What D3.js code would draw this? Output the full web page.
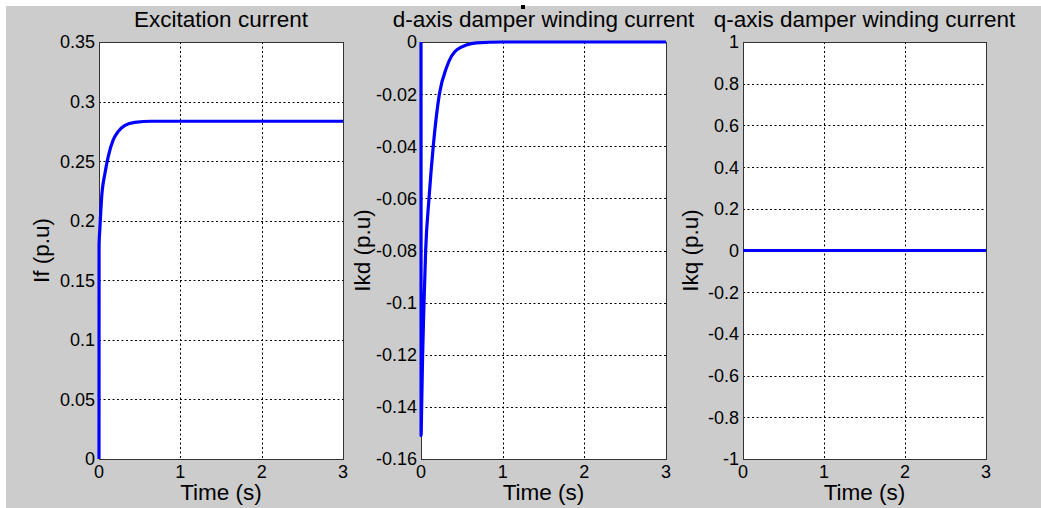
<!DOCTYPE html>
<html>
<head>
<meta charset="utf-8">
<script src="https://cdn.jsdelivr.net/npm/d3@7"></script>
<style>
body{margin:0;background:#fff;}
svg{display:block;font-family:"Liberation Sans",Arial,sans-serif;}
</style>
</head>
<body>
<svg id="chart" width="1041" height="508"></svg>
<script>
// values
var time_ticks = [0, 1, 2, 3]

var if_t = [0, 0.001, 0.012, 0.033, 0.074, 0.114, 0.176, 0.237, 0.319, 0.44, 0.646, 1, 2, 3]
var if_v = [0, 0.18, 0.195, 0.220, 0.240, 0.254, 0.268, 0.275, 0.280, 0.2826, 0.2835, 0.2835, 0.2835, 0.2835]
var if_ticks = [0, 0.05, 0.1, 0.15, 0.2, 0.25, 0.3, 0.35]

var ikd_t = [0, 0.001, 0.008, 0.02, 0.037, 0.057, 0.098, 0.15, 0.225, 0.315, 0.44, 0.68, 1, 2, 3]
var ikd_v = [0, -0.151, -0.14, -0.12, -0.10, -0.08, -0.06, -0.04, -0.02, -0.0096, -0.003, -0.0003, 0, 0, 0]
var ikd_ticks = [-0.16, -0.14, -0.12, -0.1, -0.08, -0.06, -0.04, -0.02, 0]

var ikq_t = [0, 3]
var ikq_v = [0, 0]
var ikq_ticks = [-1, -0.8, -0.6, -0.4, -0.2, 0, 0.2, 0.4, 0.6, 0.8, 1]

var titles = ['Excitation current', 'd-axis damper winding current', 'q-axis damper winding current']
var ylabels = ['If (p.u)', 'Ikd (p.u)', 'Ikq (p.u)']

function chart(){

	var svg = d3.select('svg#chart')
	svg.append('rect')
		.attr('x', 6).attr('y', 6)
		.attr('width', 1035).attr('height', 502)
		.style('fill', '#cccccc')

	// little black speck above the middle title
	svg.append('rect')
		.attr('x', 521).attr('y', 5)
		.attr('width', 4).attr('height', 4)
		.style('fill', '#000')

	var panels = [
		{x0: 99, x1: 343, t: if_t, v: if_v, ticks: if_ticks, dom: [0, 0.35], labx: 41},
		{x0: 421, x1: 666, t: ikd_t, v: ikd_v, ticks: ikd_ticks, dom: [-0.16, 0], labx: 362},
		{x0: 743, x1: 986, t: ikq_t, v: ikq_v, ticks: ikq_ticks, dom: [-1, 1], labx: 690}
	]
	panels.forEach(function(p, i){ draw(svg, p, titles[i], ylabels[i]) })
}

function draw(svg, p, title, ylabel){
	var top = 42, bottom = 459
	var sx = d3.scaleLinear().domain([0, 3]).range([p.x0, p.x1])
	var sy = d3.scaleLinear().domain(p.dom).range([bottom, top])
	var g = svg.append('g')

	g.append('rect')
		.attr('x', p.x0).attr('y', top)
		.attr('width', p.x1 - p.x0).attr('height', bottom - top)
		.style('fill', '#fff')

	// dotted grid
	g.selectAll('line.gx')
		.data(time_ticks.slice(1, -1))
		.enter()
		.append('line')
		.attr('class', 'gx')
		.attr('x1', function(d){return Math.round(sx(d)) + 0.5})
		.attr('x2', function(d){return Math.round(sx(d)) + 0.5})
		.attr('y1', top).attr('y2', bottom)
		.style('stroke', '#000')
		.style('stroke-dasharray', '2,2.5')
	g.selectAll('line.gy')
		.data(p.ticks.slice(1, -1))
		.enter()
		.append('line')
		.attr('class', 'gy')
		.attr('y1', function(d){return Math.round(sy(d)) + 0.5})
		.attr('y2', function(d){return Math.round(sy(d)) + 0.5})
		.attr('x1', p.x0).attr('x2', p.x1)
		.style('stroke', '#000')
		.style('stroke-dasharray', '2,2.5')

	g.append('rect')
		.attr('x', p.x0 + 0.5).attr('y', top + 0.5)
		.attr('width', p.x1 - p.x0).attr('height', bottom - top)
		.style('fill', 'none')
		.style('stroke', '#333')

	var pts = p.t.map(function(t, k){return [t, p.v[k]]})
	var line = d3.line()
		.curve(d3.curveMonotoneX)
		.x(function(d){return sx(d[0])})
		.y(function(d){return sy(d[1])})
	g.append('path')
		.datum(pts)
		.attr('d', line)
		.style('fill', 'none')
		.style('stroke', '#0000ff')
		.style('stroke-width', 3.2)
		.style('stroke-linejoin', 'round')

	// tick labels
	g.selectAll('text.ty')
		.data(p.ticks)
		.enter()
		.append('text')
		.attr('class', 'ty')
		.attr('x', p.x0 - 4)
		.attr('y', function(d){return sy(d)})
		.attr('dy', '0.36em')
		.attr('text-anchor', 'end')
		.style('font-size', '18px')
		.text(function(d){return d3.format('~g')(d).replace('−', '-')})
	g.selectAll('text.tx')
		.data(time_ticks)
		.enter()
		.append('text')
		.attr('class', 'tx')
		.attr('x', function(d){return sx(d)})
		.attr('y', 478)
		.attr('text-anchor', 'middle')
		.style('font-size', '18px')
		.text(function(d){return d})

	g.append('text')
		.attr('x', (p.x0 + p.x1) / 2)
		.attr('y', 27)
		.attr('text-anchor', 'middle')
		.style('font-size', '22.5px')
		.text(title)
	g.append('text')
		.attr('x', (p.x0 + p.x1) / 2)
		.attr('y', 500)
		.attr('text-anchor', 'middle')
		.style('font-size', '22.5px')
		.text('Time (s)')
	g.append('text')
		.attr('transform', 'translate(' + p.labx + ',' + ((top + bottom) / 2) + ') rotate(-90)')
		.attr('dy', '0.35em')
		.attr('text-anchor', 'middle')
		.style('font-size', '22.5px')
		.text(ylabel)
}

chart()
</script>
</body>
</html>
